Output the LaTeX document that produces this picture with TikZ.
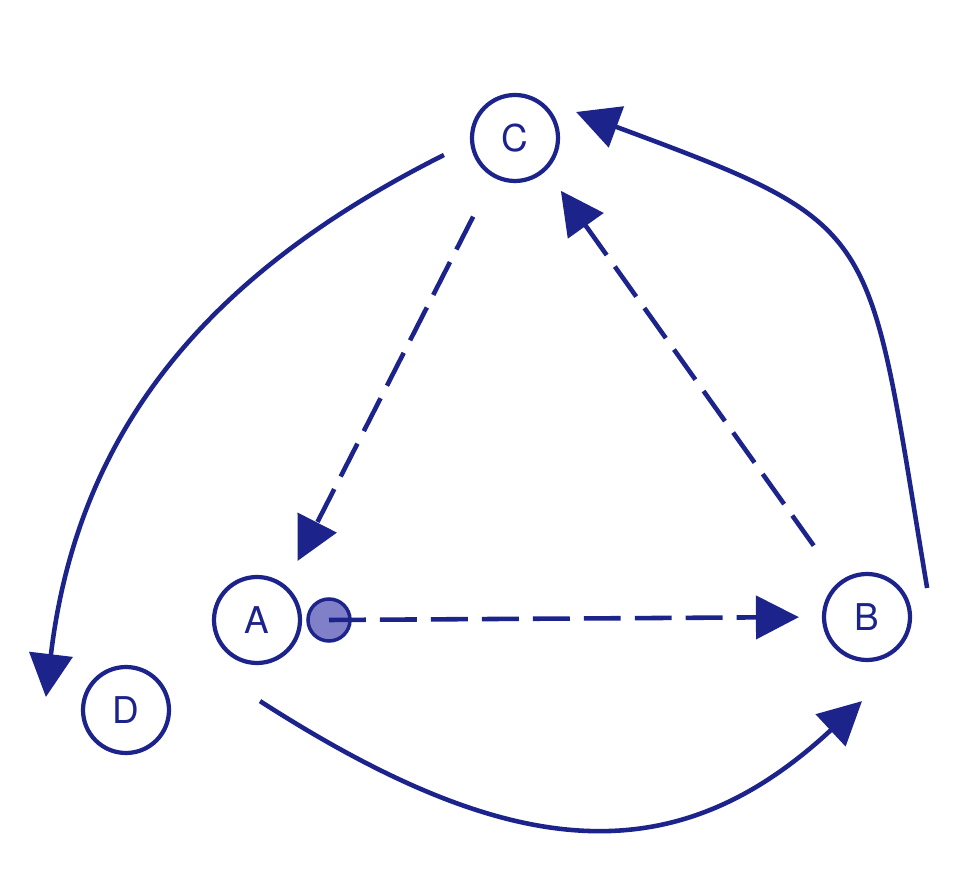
\documentclass[tikz,border=0pt]{standalone}
\usepackage{fontspec}
\setmainfont{TeX Gyre Heros}
\usetikzlibrary{arrows.meta}
\definecolor{ink}{RGB}{28,36,140}
\definecolor{dotfill}{RGB}{128,128,200}
\begin{document}
\begin{tikzpicture}[
  state/.style={circle,draw=ink,line width=2.4pt,minimum size=1.72cm,inner sep=0pt,text=ink,font=\fontsize{21}{24}\selectfont},
  marker/.style={circle,draw=ink,fill=dotfill,line width=2pt,minimum size=0.84cm,inner sep=0pt},
  link/.style={draw=ink,line width=2.6pt,-{Triangle[length=8.6mm,width=8.6mm]}},
  dashlink/.style={link,dash pattern=on 21pt off 8pt}
]

\fill[white] (0,0) rectangle (19.44,17.7);
\useasboundingbox (0,0) rectangle (19.44,17.7);

\node[state] (C) at (10.30,14.94) {C};
\node[state] (A) at (5.14,5.30) {A};
\node[state] (B) at (17.34,5.36) {B};
\node[state] (D) at (2.52,3.50) {D};
\node[marker] (dot) at (6.58,5.30) {};

\draw[dashlink,shorten >=0.46cm] (dot.center) -- (B.west);
\draw[dashlink,shorten <=0.88cm,shorten >=0.54cm] (C.241) -- (A.51);
\draw[dashlink,shorten <=0.88cm,shorten >=0.5cm] (B.128) -- (C.314);

\draw[link] ([shift={(-0.52,-0.34)}]C.west) .. controls +(-4.46,-2.24) and +(0.66,5.56) .. ([shift={(-0.7,0.26)}]D.west);
\draw[link] ([shift={(0.3,0.58)}]B.east) .. controls +(-1.22,7.3) and +(6.2,-2.3) .. ([shift={(0.32,0.52)}]C.east);
\draw[link] ([shift={(0.06,-0.72)}]A.south) .. controls +(5.04,-3.24) and +(-3.74,-3.48) .. ([shift={(-0.1,-0.78)}]B.south);

\end{tikzpicture}
\end{document}
